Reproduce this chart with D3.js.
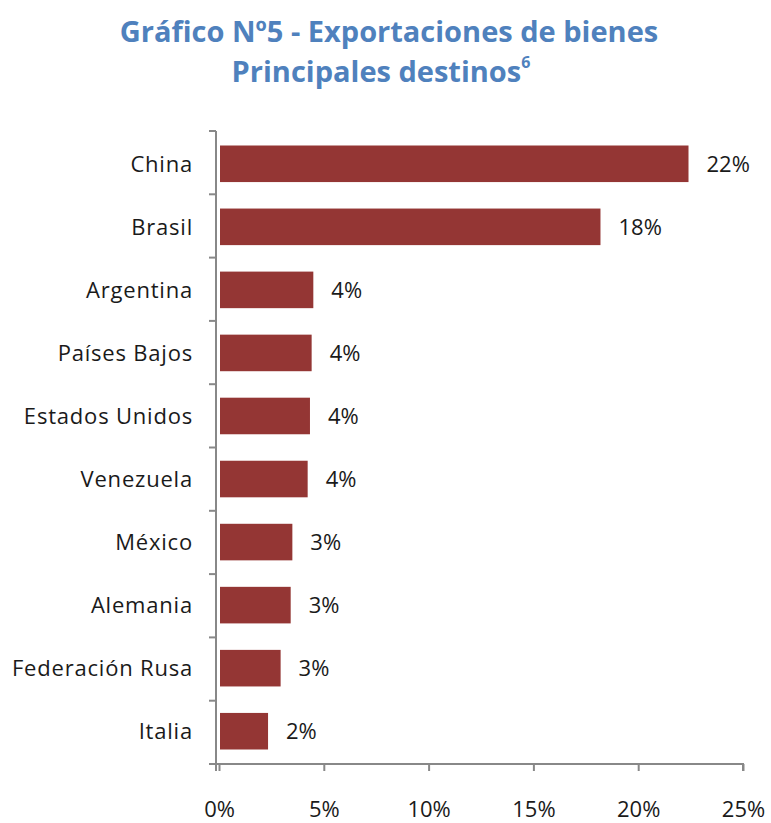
<!DOCTYPE html>
<html><head><meta charset="utf-8">
<script src="https://cdn.jsdelivr.net/npm/d3@7"></script>
<style>body{margin:0;background:#fff}svg{display:block}</style>
</head><body>
<svg id="c" width="771" height="823"></svg>
<script>
const categories = ["China","Brasil","Argentina","Países Bajos","Estados Unidos","Venezuela","México","Alemania","Federación Rusa","Italia"];
const values = [22.4, 18.2, 4.5, 4.42, 4.34, 4.23, 3.5, 3.42, 2.94, 2.34];
const valueLabels = ["22%","18%","4%","4%","4%","4%","3%","3%","3%","2%"];
const tickValues = [0,5,10,15,20,25];
const titleLines = ["Gráfico Nº5 - Exportaciones de bienes","Principales destinos"];

const svg = d3.select("#c");
const font = "'Open Sans', sans-serif";
const m = {left:219, right:743, top:131, bottom:764};

const x = d3.scaleLinear().domain([0,25]).range([m.left, m.right]);
const y = d3.scaleBand().domain(categories).range([m.top, m.bottom]).paddingInner(0.42).paddingOuter(0.23);

// title
const t = svg.append("g").attr("font-family", font).attr("font-weight","bold").attr("fill","#4F81BD").attr("font-size",29).attr("text-anchor","middle");
t.append("text").attr("x",389).attr("y",42).text(titleLines[0]);
const t2 = t.append("text").attr("x",381).attr("y",82);
t2.append("tspan").text(titleLines[1]);
t2.append("tspan").attr("font-size",16).attr("dy",-14).text("6");

// bars
svg.append("g").selectAll("rect").data(values).join("rect")
  .attr("x", x(0)+1).attr("y",(d,i)=>y(categories[i]))
  .attr("width", d=>x(d)-x(0)-1).attr("height", y.bandwidth())
  .attr("fill","#943634");

// value labels
svg.append("g").selectAll("text").data(values).join("text")
  .attr("x", d=>x(d)+18).attr("y",(d,i)=>y(categories[i])+y.bandwidth()/2+8)
  .attr("font-family",font).attr("font-size",22).attr("fill","#1a1a1a")
  .text((d,i)=>valueLabels[i]);

// y axis
const yAxis = svg.append("g").attr("transform",`translate(${m.left-3},0)`);
yAxis.append("line").attr("x1",0).attr("x2",0).attr("y1",m.top).attr("y2",m.bottom).attr("stroke","#888").attr("stroke-width",2);
const bounds = d3.range(categories.length+1).map(i=>m.top + i*(m.bottom-m.top)/categories.length);
yAxis.selectAll("line.tk").data(bounds).join("line").attr("class","tk")
  .attr("x1",-7).attr("x2",0).attr("y1",d=>d).attr("y2",d=>d).attr("stroke","#888").attr("stroke-width",2);
svg.append("g").selectAll("text").data(categories).join("text")
  .attr("x",193).attr("y",d=>y(d)+y.bandwidth()/2+8).attr("text-anchor","end")
  .attr("font-family",font).attr("font-size",22).attr("letter-spacing",0.8).attr("fill","#1a1a1a").text(d=>d);

// x axis
const xAxis = d3.axisBottom(x).tickValues(tickValues).tickSize(7).tickPadding(30).tickFormat(d=>d+"%");
const gx = svg.append("g").attr("transform",`translate(0,${m.bottom})`).call(xAxis);
gx.select(".domain").attr("stroke","#888").attr("stroke-width",2).attr("d",`M${m.left-3},7V0H${m.right}V7`);
gx.selectAll(".tick line").attr("stroke","#888").attr("stroke-width",2);
gx.selectAll(".tick text").attr("font-family",font).attr("font-size",22).attr("fill","#1a1a1a");
</script>
</body></html>
